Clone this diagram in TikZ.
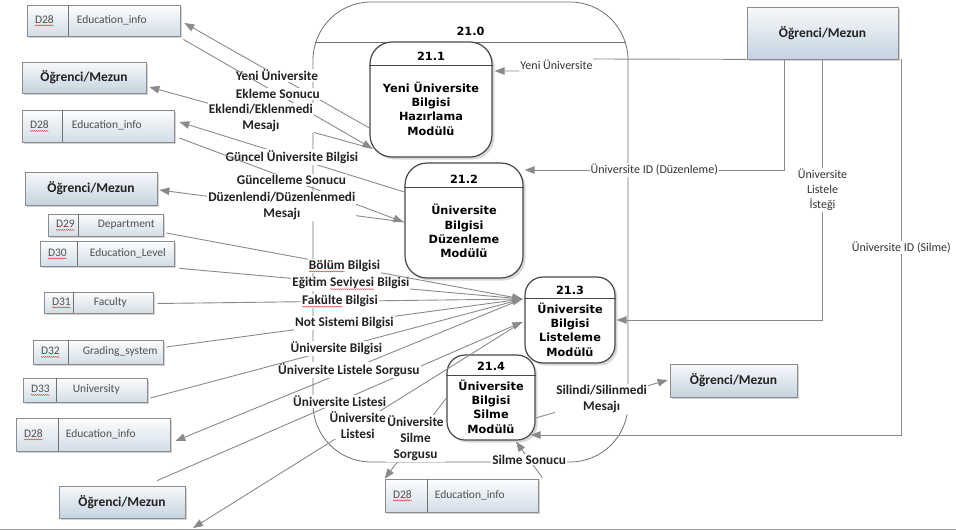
\documentclass[tikz,border=0pt]{standalone}
\usepackage{fontspec}
\setmainfont{Carlito}
\newfontfamily\procfont{DejaVu Sans}
\usetikzlibrary{arrows.meta,calc,shadows,decorations.pathmorphing}
\definecolor{lne}{HTML}{8A8A8A}
\definecolor{txt}{HTML}{222222}
\definecolor{rtxt}{HTML}{333333}
\definecolor{stxt}{HTML}{505050}
\definecolor{entt}{HTML}{F7F9FB}
\definecolor{entb}{HTML}{C5D3E0}
\definecolor{stt}{HTML}{FCFDFE}
\definecolor{stb}{HTML}{D3DDE7}
\definecolor{bord}{HTML}{8C8C8C}
\definecolor{pbord}{HTML}{474747}
\definecolor{bigc}{HTML}{707070}
\definecolor{pagel}{HTML}{A0A0A0}
\definecolor{spell}{HTML}{E04040}
\newcommand\redwave[1]{\tikz[baseline=(rw.base)]{\node[inner sep=0pt, outer sep=0pt, fill=none, draw=none] (rw) {#1};
 \draw[arrows=-, solid, draw=spell, line width=0.4pt, decorate, decoration={zigzag, segment length=2pt, amplitude=0.5pt}] ([yshift=-2.2pt]rw.base west) -- ([yshift=-2.2pt]rw.base east);}}
\tikzset{
 flow/.style={draw=lne, line width=0.9pt, -{Triangle[length=10pt,width=7.5pt]}},
 lab/.style={fill=white, inner sep=1pt, text=txt, align=center, font=\fontsize{13.3}{16}\selectfont\bfseries},
 labr/.style={fill=white, inner sep=1pt, text=rtxt, align=center, font=\fontsize{12}{15}\selectfont},
 ent/.style={draw=bord, line width=0.7pt, top color=entt, bottom color=entb, inner sep=0pt, text=txt, font=\fontsize{13.5}{16}\selectfont\bfseries, drop shadow={shadow xshift=2pt, shadow yshift=-2pt, opacity=0.35}},
 store/.style={draw=bord, line width=0.7pt, top color=stt, bottom color=stb, inner sep=0pt, drop shadow={shadow xshift=2pt, shadow yshift=-2pt, opacity=0.35}},
 stxtn/.style={anchor=west, inner sep=0pt, text height=8pt, text depth=2.5pt, text=stxt, font=\fontsize{11.5}{14}\selectfont},
 divl/.style={draw=bord!80!black, line width=0.7pt},
 proc/.style={draw=pbord, line width=1.2pt, fill=white, inner sep=0pt, drop shadow={shadow xshift=2.5pt, shadow yshift=-2.5pt, opacity=0.3}},
 ptext/.style={align=center, inner sep=0pt, text=black, font=\procfont\fontsize{11.3}{14.3}\selectfont\bfseries},
 hdr/.style={draw=pbord, line width=0.8pt},
 bigp/.style={draw=bigc, line width=0.8pt, rounded corners=58pt, inner sep=0pt},
 bighdr/.style={draw=bigc, line width=0.8pt},
 pageline/.style={draw=pagel, line width=1pt},
}
\newcommand\dstore[7]{%
  \node[store, minimum width=#3pt, minimum height=#4pt] (#1) at (#2) {};
  \draw[divl] ($(#1.north west)+(#5,0)$) -- ($(#1.south west)+(#5,0)$);
  \node[stxtn] (#1c) at ($(#1.west)+(8,0)$) {\redwave{#6}};
  \node[stxtn] (#1t) at ($(#1.west)+(50,0)$) {#7};
}
\begin{document}
\begin{tikzpicture}[x=1pt,y=-1pt]
\useasboundingbox (0,0) rectangle (956,531);
\draw[pageline] (0,529) -- (956,529);

% big process 21.0
\node[bigp, minimum width=315pt, minimum height=460pt] (p21) at (470.5,232) {};
\draw[bighdr] ($(p21.north west)+(2.5,41)$) -- ($(p21.north east)+(-2.5,41)$);
\node[ptext] (p21n) at ($(p21.north)+(0,30)$) {21.0};

% sub processes
\node[proc, minimum width=122pt, minimum height=115pt, rounded corners=22pt] (p11) at (431,99.5) {};
\draw[hdr] ($(p11.north west)+(0,24)$) -- ($(p11.north east)+(0,24)$);
\node[ptext] (p11n) at ($(p11.north)+(0,15)$) {21.1};
\node[ptext] (p11t) at ($(p11.center)+(0,9)$) {Yeni Üniversite\\Bilgisi\\Hazırlama\\Modülü};

\node[proc, minimum width=118pt, minimum height=115pt, rounded corners=22pt] (p12) at (464,220.5) {};
\draw[hdr] ($(p12.north west)+(0,25)$) -- ($(p12.north east)+(0,25)$);
\node[ptext] (p12n) at ($(p12.north)+(0,17)$) {21.2};
\node[ptext] (p12t) at ($(p12.center)+(0,10.5)$) {Üniversite\\Bilgisi\\Düzenleme\\Modülü};

\node[proc, minimum width=90pt, minimum height=86pt, rounded corners=18pt] (p13) at (570,320) {};
\draw[hdr] ($(p13.north west)+(0,22)$) -- ($(p13.north east)+(0,22)$);
\node[ptext] (p13n) at ($(p13.north)+(0,14)$) {21.3};
\node[ptext] (p13t) at ($(p13.center)+(0,9.5)$) {Üniversite\\Bilgisi\\Listeleme\\Modülü};

\node[proc, minimum width=88pt, minimum height=85pt, rounded corners=18pt] (p14) at (491,397.5) {};
\draw[hdr] ($(p14.north west)+(0,21)$) -- ($(p14.north east)+(0,21)$);
\node[ptext] (p14n) at ($(p14.north)+(0,12)$) {21.4};
\node[ptext] (p14t) at ($(p14.center)+(0,9)$) {Üniversite\\Bilgisi\\Silme\\Modülü};

% external entities
\node[ent, minimum width=151pt, minimum height=52pt] (eTR) at (822.5,33) {Öğrenci/Mezun};
\node[ent, minimum width=124pt, minimum height=31pt] (eL1) at (84,77.5) {Öğrenci/Mezun};
\node[ent, minimum width=132pt, minimum height=33pt] (eL2) at (91,188.5) {Öğrenci/Mezun};
\node[ent, minimum width=126pt, minimum height=32pt] (eL3) at (122,502) {Öğrenci/Mezun};
\node[ent, minimum width=127pt, minimum height=33pt] (eR) at (733.5,380.5) {Öğrenci/Mezun};

% data stores
\dstore{d28a}{103.5,20.5}{153}{31}{42}{D28}{Education\_info}
\dstore{d28b}{98,126}{152}{32}{41}{D28}{Education\_info}
\dstore{d29}{105.5,225}{115}{22}{31}{D29}{Department}
\dstore{d30}{107,253.5}{134}{25}{38}{D30}{Education\_Level}
\dstore{d31}{98.5,302.5}{109}{21}{30}{D31}{Faculty}
\dstore{d32}{98,352}{130}{24}{36}{D32}{Grading\_system}
\dstore{d33}{85,390}{124}{24}{34}{D33}{University}
\dstore{d28c}{93,434.5}{154}{33}{43}{D28}{Education\_info}
\dstore{d28d}{461.5,495.5}{153}{33}{43}{D28}{Education\_info}

\coordinate (offb) at (193,528);

% 21.1 flows
\draw[flow] (p11.west |- 0,128) -- node[lab]{Yeni Üniversite} ($(d28a.east |- 0,23)+(4,0)$);
\draw[flow] ($(d28a.south east)+(3,3)$) -- node[lab]{Ekleme Sonucu} ($(p11.south west)+(3,-9)$);
\draw[flow] ($(p11.south west)+(3,-9)$) -- node[lab]{Eklendi/Eklenmedi\\Mesajı} ($(eL1.east |- 0,87)+(3,0)$);

% 21.2 flows
\draw[flow] (p12.west |- 0,192) -- node[lab]{Güncel Üniversite Bilgisi} ($(d28b.east |- 0,122)+(5,0)$);
\draw[flow] ($(d28b.east |- 0,138)+(5,0)$) -- node[lab]{Güncelleme Sonucu} ($(p12.west |- 0,222)+(-1,0)$);
\draw[flow] (p12.west |- 0,222) -- node[lab]{Düzenlendi/Düzenlenmedi\\Mesajı} ($(eL2.east |- 0,190)+(2,0)$);

% 21.3 flows
\draw[flow] ($(eL3.north)+(35,-5)$) -- node[lab]{Üniversite Listesi} ($(p13.west |- 0,322)+(-2,0)$);
\draw[flow] ($(p13.west |- 0,299)+(-2,0)$) -- node[lab]{Üniversite Listele Sorgusu} ($(d28c.east |- 0,441)+(5,0)$);
\draw[flow] ($(d33.east |- 0,398)+(3,0)$) -- node[lab]{Üniversite Bilgisi} ($(p13.west |- 0,299)+(-2,0)$);
\draw[flow] ($(d32.east |- 0,347)+(3,0)$) -- node[lab]{Not Sistemi Bilgisi} ($(p13.west |- 0,299)+(-2,0)$);
\draw[flow] ($(d31.east)+(4,1)$) -- node[lab]{\redwave{Fakülte} Bilgisi} ($(p13.west |- 0,299)+(-2,0)$);
\draw[flow] ($(d30.south east)+(5,2)$) -- node[lab]{Eğitim \redwave{Seviyesi} Bilgisi} ($(p13.west |- 0,299)+(-2,0)$);
\draw[flow] ($(d29.east |- 0,233)+(3,0)$) -- node[lab]{\redwave{Bölüm} Bilgisi} ($(p13.west |- 0,299)+(-2,0)$);
\draw[flow] ($(p13.west |- 0,322)+(-2,0)$) -- node[lab]{Üniversite\\Listesi} (offb);

% 21.4 flows
\draw[flow] (p14.west |- 0,398) -- node[lab]{Üniversite\\Silme\\Sorgusu} (d28d.north west);
\draw[flow] ($(d28d.north east)+(4,-1)$) -- node[lab]{Silme Sonucu} ($(p14.south)+(25,1)$);
\draw[flow] (p14.east |- 0,418) -- node[lab]{Silindi/Silinmedi\\Mesajı} ($(eR.west |- 0,380)+(-2,0)$);

% flows from the top right entity
\draw[flow] (eTR.south west) -- (595,59) -- node[labr]{Yeni Üniversite} (518,71) -- ($(p11.east |- 0,71)+(2,0)$);
\draw[flow] ([xshift=-38.5pt]eTR.south) |- node[labr,pos=0.75]{Üniversite ID (Düzenleme)} ($(p12.east |- 0,170)+(1,0)$);
\draw[flow] (eTR.south) |- node[labr,pos=0.25]{Üniversite\\Listele\\İsteği} ($(p13.east |- 0,320)+(1,0)$);
\draw[flow] ($(eTR.south east)+(3,0)$) |- node[labr,pos=0.25]{Üniversite ID (Silme)} ($(p14.east |- 0,435)+(-5,0)$);
\end{tikzpicture}
\end{document}
